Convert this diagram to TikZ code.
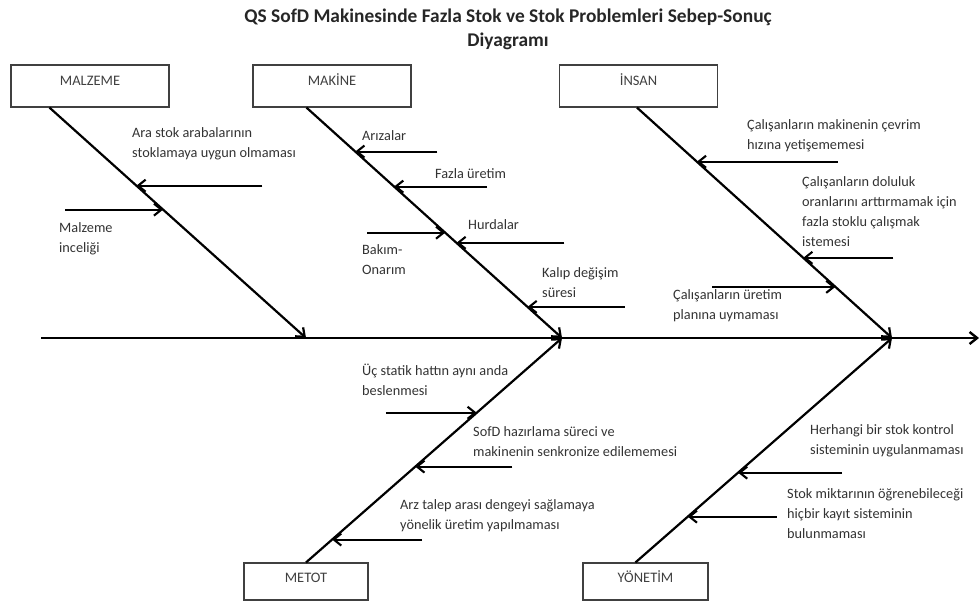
\documentclass[tikz,border=0pt]{standalone}
\usepackage{fontspec}
\setmainfont{Carlito}
\usetikzlibrary{positioning,calc,arrows.meta}

\begin{document}
\begin{tikzpicture}[x=1pt,y=-1pt,
    catbox/.style={draw=black!75, line width=1.1pt, minimum width=158pt, minimum height=42pt, inner sep=0pt},
    cattext/.style={font=\fontsize{14.5}{16}\selectfont, text=black!75, inner sep=0pt},
    spine/.style={line width=2.4pt, -{Straight Barb[length=7.5pt,width=12pt]}},
    bone/.style={line width=2.2pt, -{Straight Barb[length=7.5pt,width=12pt]}},
    cause/.style={line width=2.1pt, -{Straight Barb[length=7.5pt,width=12pt]}},
    note/.style={font=\fontsize{14.3}{20}\selectfont, text=black!80, align=left, anchor=north west, inner sep=0pt}]
    \useasboundingbox (0,0) rectangle (980,603);

    % Title
    \node[font=\bfseries\fontsize{19.4}{24}\selectfont, text=black!85, align=center] (title) at (508,29)
        {QS SofD Makinesinde Fazla Stok ve Stok Problemleri Sebep-Sonuç\\Diyagramı};

    % Category boxes
    \node[catbox] (malzeme) at (90,86) {};
    \node[catbox] (makine) at (332,86) {};
    \node[catbox] (insan) at (638.5,86) {};
    \node[catbox, minimum width=124pt, minimum height=37pt] (metot) at (306,581.5) {};
    \node[catbox, minimum width=125pt, minimum height=37pt] (yonetim) at (645.5,581.5) {};
    \node[cattext] (malzemeT) at ($(malzeme.north)+(0,16)$) {MALZEME};
    \node[cattext] (makineT) at ($(makine.north)+(0,15)$) {MAKİNE};
    \node[cattext] (insanT) at ($(insan.north)+(0,15)$) {İNSAN};
    \node[cattext] (metotT) at ($(metot.north)+(0,15)$) {METOT};
    \node[cattext] (yonetimT) at ($(yonetim.north)+(0,14)$) {YÖNETİM};

    % Spine
    \coordinate (spineL) at (41,338);
    \coordinate (spineR) at (979,338);
    \draw[spine] (spineL) -- (spineR);
    \coordinate (jA) at (306,338); % Malzeme
    \coordinate (jB) at (562,338); % Makine, Metot
    \coordinate (jC) at (892,338); % Insan, Yonetim

    % Bones
    \coordinate (sA) at ($(malzeme.south west)+(39,0)$);
    \coordinate (sB) at ($(makine.south west)+(54,0)$);
    \coordinate (sC) at ($(insan.south west)+(78,0)$);
    \coordinate (sD) at (metot.north);
    \coordinate (sE) at ($(yonetim.north west)+(53,0)$);
    \draw[bone] (sA) -- (jA);
    \draw[bone] (sB) -- (jB);
    \draw[bone] (sC) -- (jC);
    \draw[bone] (sD) -- (jB);
    \draw[bone] (sE) -- (jC);

    % Malzeme causes
    \coordinate (hA1) at ($(sA)!0.339!(jA)$);
    \coordinate (tA1) at ($(hA1)+(126,0)$);
    \coordinate (hA2) at ($(sA)!0.443!(jA)$);
    \coordinate (tA2) at ($(hA2)+(-98,0)$);
    \draw[cause] (tA1) -- (hA1);
    \draw[cause] (tA2) -- (hA2);
    \node[note] (nA1) at (132,127) {Ara stok arabalarının\\stoklamaya uygun olmaması};
    \node[note] (nA2) at (59,222) {Malzeme\\inceliği};

    % Makine causes
    \coordinate (hB1) at ($(sB)!0.191!(jB)$);
    \coordinate (tB1) at ($(hB1)+(82,0)$);
    \coordinate (hB2) at ($(sB)!0.343!(jB)$);
    \coordinate (tB2) at ($(hB2)+(93,0)$);
    \coordinate (hB3) at ($(sB)!0.543!(jB)$);
    \coordinate (tB3) at ($(hB3)+(-78,0)$);
    \coordinate (hB4) at ($(sB)!0.587!(jB)$);
    \coordinate (tB4) at ($(hB4)+(108,0)$);
    \coordinate (hB5) at ($(sB)!0.865!(jB)$);
    \coordinate (tB5) at ($(hB5)+(97,0)$);
    \draw[cause] (tB1) -- (hB1);
    \draw[cause] (tB2) -- (hB2);
    \draw[cause] (tB3) -- (hB3);
    \draw[cause] (tB4) -- (hB4);
    \draw[cause] (tB5) -- (hB5);
    \node[note] (nB1) at (362,130) {Arızalar};
    \node[note] (nB2) at (435,168) {Fazla üretim};
    \node[note] (nB3) at (362,244) {Bakım-\\Onarım};
    \node[note] (nB4) at (468,219) {Hurdalar};
    \node[note] (nB5) at (542,267) {Kalıp değişim\\süresi};

    % Insan causes
    \coordinate (hC1) at ($(sC)!0.235!(jC)$);
    \coordinate (tC1) at ($(hC1)+(141,0)$);
    \coordinate (hC2) at ($(sC)!0.652!(jC)$);
    \coordinate (tC2) at ($(hC2)+(90,0)$);
    \coordinate (hC3) at ($(sC)!0.778!(jC)$);
    \coordinate (tC3) at ($(hC3)+(-123,0)$);
    \draw[cause] (tC1) -- (hC1);
    \draw[cause] (tC2) -- (hC2);
    \draw[cause] (tC3) -- (hC3);
    \node[note] (nC1) at (747,119) {Çalışanların makinenin çevrim\\hızına yetişememesi};
    \node[note] (nC2) at (802,176) {Çalışanların doluluk\\oranlarını arttırmamak için\\fazla stoklu çalışmak\\istemesi};
    \node[note] (nC3) at (673,289) {Çalışanların üretim\\planına uymaması};

    % Metot causes
    \coordinate (hD1) at ($(sD)!0.667!(jB)$);
    \coordinate (tD1) at ($(hD1)+(-91,0)$);
    \coordinate (hD2) at ($(sD)!0.427!(jB)$);
    \coordinate (tD2) at ($(hD2)+(97,0)$);
    \coordinate (hD3) at ($(sD)!0.102!(jB)$);
    \coordinate (tD3) at ($(hD3)+(90,0)$);
    \draw[cause] (tD1) -- (hD1);
    \draw[cause] (tD2) -- (hD2);
    \draw[cause] (tD3) -- (hD3);
    \node[note] (nD1) at (362,364) {Üç statik hattın aynı anda\\beslenmesi};
    \node[note] (nD2) at (473,426) {SofD hazırlama süreci ve\\makinenin senkronize edilememesi};
    \node[note] (nD3) at (400,499) {Arz talep arası dengeyi sağlamaya\\yönelik üretim yapılmaması};

    % Yonetim causes
    \coordinate (hE1) at ($(sE)!0.4!(jC)$);
    \coordinate (tE1) at ($(hE1)+(104,0)$);
    \coordinate (hE2) at ($(sE)!0.204!(jC)$);
    \coordinate (tE2) at ($(hE2)+(89,0)$);
    \draw[cause] (tE1) -- (hE1);
    \draw[cause] (tE2) -- (hE2);
    \node[note] (nE1) at (810,424) {Herhangi bir stok kontrol\\sisteminin uygulanmaması};
    \node[note] (nE2) at (787,488) {Stok miktarının öğrenebileceği\\hiçbir kayıt sisteminin\\bulunmaması};
\end{tikzpicture}
\end{document}
